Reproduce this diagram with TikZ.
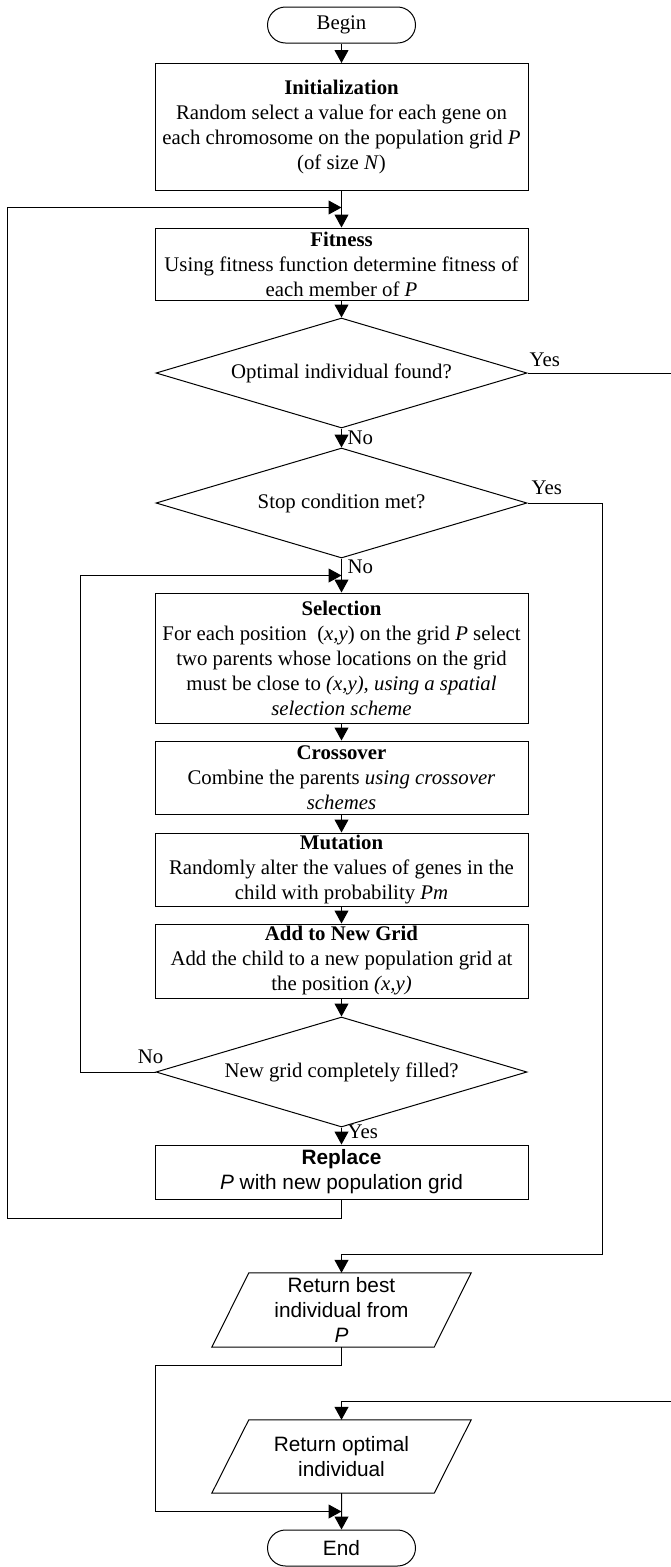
\documentclass[tikz,border=0pt]{standalone}
\usepackage{fontspec}
\setmainfont{Liberation Serif}
\newfontfamily\arialfont{Liberation Sans}
\usetikzlibrary{shapes.geometric,shapes.misc,arrows.meta,calc}
\begin{document}
\begin{tikzpicture}[x=1pt,y=-1pt,
  every node/.style={font=\fontsize{20.8}{25}\selectfont},
  sans/.style={font=\arialfont\fontsize{20.8}{25}\selectfont},
  box/.style={draw, line width=1pt, rectangle, minimum width=373pt, align=center, inner sep=0pt},
  dec/.style={draw, line width=1pt, diamond, aspect=3.37, minimum width=371pt, minimum height=110pt, inner sep=0pt, align=center},
  term/.style={draw, line width=1pt, rounded rectangle, minimum width=148pt, minimum height=36pt, inner sep=0pt},
  io/.style={minimum width=259pt, minimum height=74pt, inner sep=0pt, align=center},
  line/.style={line width=1pt},
  arr/.style={line width=1pt, -{Triangle[length=13pt,width=14pt]}},
  lbl/.style={inner sep=0pt},
]
\useasboundingbox (0,0) rectangle (671,1567);
\clip (0,0) rectangle (671,1567);

% nodes
\node[term] (begin) at (341.5,25) {Begin};
\node[box, minimum height=127pt] (init) at (341.5,127) {\textbf{Initialization}\\Random select a value for each gene on\\each chromosome on the population grid \textit{P}\\(of size \textit{N})};
\node[box, minimum height=72pt] (fit) at (341.5,264) {\textbf{Fitness}\\Using fitness function determine fitness of\\each member of \textit{P}};
\node[dec] (d1) at (341.5,373) {Optimal individual found?};
\node[dec] (d2) at (341.5,503) {Stop condition met?};
\node[box, minimum height=130pt] (sel) at (341.5,658) {\textbf{Selection}\\For each position\ \ (\textit{x,y}) on the grid \textit{P} select\\two parents whose locations on the grid\\must be close to \textit{(x,y), using a spatial}\\\textit{selection scheme}};
\node[box, minimum height=73pt] (cross) at (341.5,777.5) {\textbf{Crossover}\\Combine the parents \textit{using crossover}\\\textit{schemes}};
\node[box, minimum height=73pt] (mut) at (341.5,869.5) {\textbf{Mutation}\\Randomly alter the values of genes in the\\child with probability \textit{Pm}};
\node[box, minimum height=74pt] (add) at (341.5,961) {\textbf{Add to New Grid}\\Add the child to a new population grid at\\the position \textit{(x,y)}};
\node[dec] (d3) at (341.5,1072) {New grid completely filled?};
\node[box, sans, minimum height=54pt] (rep) at (341.5,1172) {\textbf{Replace}\\\textit{P} with new population grid};
\node[io, sans] (retbest) at (341.5,1310) {Return best\\individual from\\\textit{P}};
\node[io, sans, minimum height=73pt] (retopt) at (341.5,1456.5) {Return optimal\\individual};
\node[term, sans] (end) at (341.5,1548) {End};

% parallelograms
\draw[line] (retbest.south west) -- ($(retbest.south east)+(-37,0)$) -- (retbest.north east) -- ($(retbest.north west)+(37,0)$) -- cycle;
\draw[line] (retopt.south west) -- ($(retopt.south east)+(-37,0)$) -- (retopt.north east) -- ($(retopt.north west)+(37,0)$) -- cycle;

% junctions
\coordinate (jA) at ($(fit.north)+(0,-20)$);
\coordinate (jB) at ($(sel.north)+(0,-17)$);
\coordinate (jC) at ($(end.north)+(0,-18)$);

% straight connectors
\draw[arr] (begin) -- (init);
\draw[arr] (init) -- (fit);
\draw[arr] (fit) -- (d1);
\draw[arr] (d1) -- (d2);
\draw[arr] (d2) -- (sel);
\draw[arr] (sel) -- (cross);
\draw[arr] (cross) -- (mut);
\draw[arr] (mut) -- (add);
\draw[arr] (add) -- (d3);
\draw[arr] (d3) -- (rep);
\draw[arr] (retopt) -- (end);

% loops and branches
\draw[arr] (rep.south) -- ++(0,19) -| ($(jA)+(-334.5,0)$) -- (jA);
\draw[arr] (d3.west) -- ++(-75,0) |- (jB);
\draw[arr] (d2.east) -- ++(75,0) |- ($(retbest.north)+(0,-18)$) -- (retbest.north);
\draw[arr] (d1.east) -- ++(170,0) |- ($(retopt.north)+(0,-18)$) -- (retopt.north);
\draw[arr] (retbest.south) -- ++(0,18) -- ++(-186.5,0) |- (jC);

% labels
\node[lbl, anchor=south west] (y1) at ($(d1.east)+(2,-6)$) {Yes};
\node[lbl, anchor=west] (n1) at ($(d1.south)+(6,9)$) {No};
\node[lbl, anchor=south west] (y2) at ($(d2.east)+(4,-8)$) {Yes};
\node[lbl, anchor=west] (n2) at ($(d2.south)+(6,8)$) {No};
\node[lbl, anchor=east] (n3) at ($(d3.west)+(8,-15)$) {No};
\node[lbl, anchor=west] (y3) at ($(d3.south)+(6,4)$) {Yes};
\end{tikzpicture}
\end{document}
